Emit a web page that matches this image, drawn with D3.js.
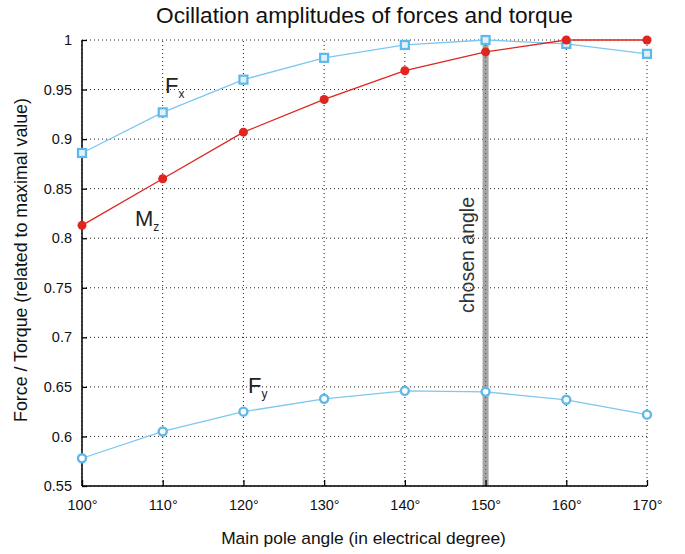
<!DOCTYPE html>
<html>
<head>
<meta charset="utf-8">
<script src="https://cdn.jsdelivr.net/npm/d3@7"></script>
<style>
body { margin: 0; background: #fff; }
text { font-family: "Liberation Sans", Arial, sans-serif; fill: #111; }
</style>
</head>
<body>
<script>
// data
var angles = [100, 110, 120, 130, 140, 150, 160, 170]
var fx = [0.886, 0.927, 0.960, 0.982, 0.995, 1.0, 0.996, 0.986]
var mz = [0.813, 0.860, 0.907, 0.940, 0.969, 0.988, 1.0, 1.0]
var fy = [0.578, 0.605, 0.625, 0.638, 0.646, 0.645, 0.637, 0.622]
var yTicks = [0.55, 0.6, 0.65, 0.7, 0.75, 0.8, 0.85, 0.9, 0.95, 1]
var chosenAngle = 150

var blue = '#7cc8f0'
var blueMark = '#5fb8ea'
var red = '#e0251f'

var W = 685, H = 554
var svg = d3.select('body').append('svg')
    .attr('width', W)
    .attr('height', H)

var x = d3.scaleLinear().domain([100, 170]).range([82, 647])
var y = d3.scaleLinear().domain([0.55, 1]).range([486, 40])

// scale font so the text spans the wanted length
function fit(t, len) {
    var s = parseFloat(t.style('font-size'))
    var w = t.node().getComputedTextLength()
    t.style('font-size', (s * len / w).toFixed(2) + 'px')
    return t
}

// grid
var grid = svg.append('g')
grid.selectAll('.gx').data(angles).enter().append('line')
    .attr('x1', d => x(d)).attr('x2', d => x(d))
    .attr('y1', y(0.55)).attr('y2', y(1))
    .attr('stroke', '#222').attr('stroke-width', 1)
    .attr('stroke-dasharray', '1,3')
grid.selectAll('.gy').data(yTicks).enter().append('line')
    .attr('x1', x(100)).attr('x2', x(170))
    .attr('y1', d => y(d)).attr('y2', d => y(d))
    .attr('stroke', '#222').attr('stroke-width', 1)
    .attr('stroke-dasharray', '1,3')

// chosen angle band
svg.append('rect')
    .attr('x', x(chosenAngle) - 3)
    .attr('y', y(1))
    .attr('width', 6)
    .attr('height', y(0.55) - y(1))
    .attr('fill', '#a4a4a4')
svg.append('line')
    .attr('x1', x(chosenAngle)).attr('x2', x(chosenAngle))
    .attr('y1', y(0.55)).attr('y2', y(1))
    .attr('stroke', '#555').attr('stroke-width', 1)
    .attr('stroke-dasharray', '1,3')

fit(svg.append('text')
    .attr('transform', 'translate(' + (x(chosenAngle) - 12) + ',255) rotate(-90)')
    .attr('text-anchor', 'middle')
    .style('font-size', '17px')
    .style('fill', '#333')
    .text('chosen angle'), 116)

// axes
var xAxis = d3.axisBottom(x).tickValues(angles).tickSize(-6).tickPadding(14)
    .tickFormat(d => d + '°')
var gx = svg.append('g').attr('transform', 'translate(0,' + y(0.55) + ')').call(xAxis)
gx.select('.domain').attr('d', 'M' + x(100) + ',0H' + x(170)).attr('stroke', '#000').attr('stroke-width', 1.5)
gx.selectAll('.tick line').attr('stroke', '#000').attr('stroke-width', 1.3)
gx.selectAll('.tick text').style('font-size', '14.5px').style('font-family', '"Liberation Sans", Arial, sans-serif').attr('fill', '#111')

var yAxis = d3.axisLeft(y).tickValues(yTicks).tickSize(-5).tickPadding(10)
    .tickFormat(d => d3.format('')(+d.toFixed(2)))
var gy = svg.append('g').attr('transform', 'translate(' + x(100) + ',0)').call(yAxis)
gy.select('.domain').attr('d', 'M0,' + y(0.55) + 'V' + y(1)).attr('stroke', '#000').attr('stroke-width', 1.5)
gy.selectAll('.tick line').attr('stroke', '#000').attr('stroke-width', 1.3)
gy.selectAll('.tick text').style('font-size', '14.5px').style('font-family', '"Liberation Sans", Arial, sans-serif').attr('fill', '#111')

// lines
var line = d3.line().x(d => x(d[0])).y(d => y(d[1]))
function series(vals) { return angles.map((a, i) => [a, vals[i]]) }

svg.append('path').datum(series(fx)).attr('d', line)
    .attr('fill', 'none').attr('stroke', blue).attr('stroke-width', 1.3)
svg.append('path').datum(series(fy)).attr('d', line)
    .attr('fill', 'none').attr('stroke', blue).attr('stroke-width', 1.3)
svg.append('path').datum(series(mz)).attr('d', line)
    .attr('fill', 'none').attr('stroke', red).attr('stroke-width', 1.3)

// markers
svg.selectAll('.mfx').data(series(fx)).enter().append('rect')
    .attr('x', d => x(d[0]) - 4).attr('y', d => y(d[1]) - 4)
    .attr('width', 8).attr('height', 8)
    .attr('fill', '#dff1fb').attr('stroke', blueMark).attr('stroke-width', 2.2)
svg.selectAll('.mfy').data(series(fy)).enter().append('circle')
    .attr('cx', d => x(d[0])).attr('cy', d => y(d[1])).attr('r', 4)
    .attr('fill', '#fff').attr('stroke', blueMark).attr('stroke-width', 2.4)
svg.selectAll('.mmz').data(series(mz)).enter().append('circle')
    .attr('cx', d => x(d[0])).attr('cy', d => y(d[1])).attr('r', 4.5)
    .attr('fill', red)

// series labels
function seriesLabel(px, py, main, sub) {
    var t = svg.append('text').attr('x', px).attr('y', py).style('font-size', '22px').style('fill', '#222')
    t.append('tspan').text(main)
    t.append('tspan').attr('dy', 5).style('font-size', '12px').text(sub)
}
seriesLabel(165, 93, 'F', 'x')
seriesLabel(135, 226, 'M', 'z')
seriesLabel(248, 393, 'F', 'y')

// titles
fit(svg.append('text')
    .attr('x', 364.5).attr('y', 23)
    .attr('text-anchor', 'middle')
    .style('font-size', '20px')
    .text('Ocillation amplitudes of forces and torque'), 417)

fit(svg.append('text')
    .attr('x', 363.5).attr('y', 544)
    .attr('text-anchor', 'middle')
    .style('font-size', '16px')
    .text('Main pole angle (in electrical degree)'), 285)

fit(svg.append('text')
    .attr('transform', 'translate(27,260) rotate(-90)')
    .attr('text-anchor', 'middle')
    .style('font-size', '16px')
    .text('Force / Torque (related to maximal value)'), 324)
</script>
</body>
</html>
